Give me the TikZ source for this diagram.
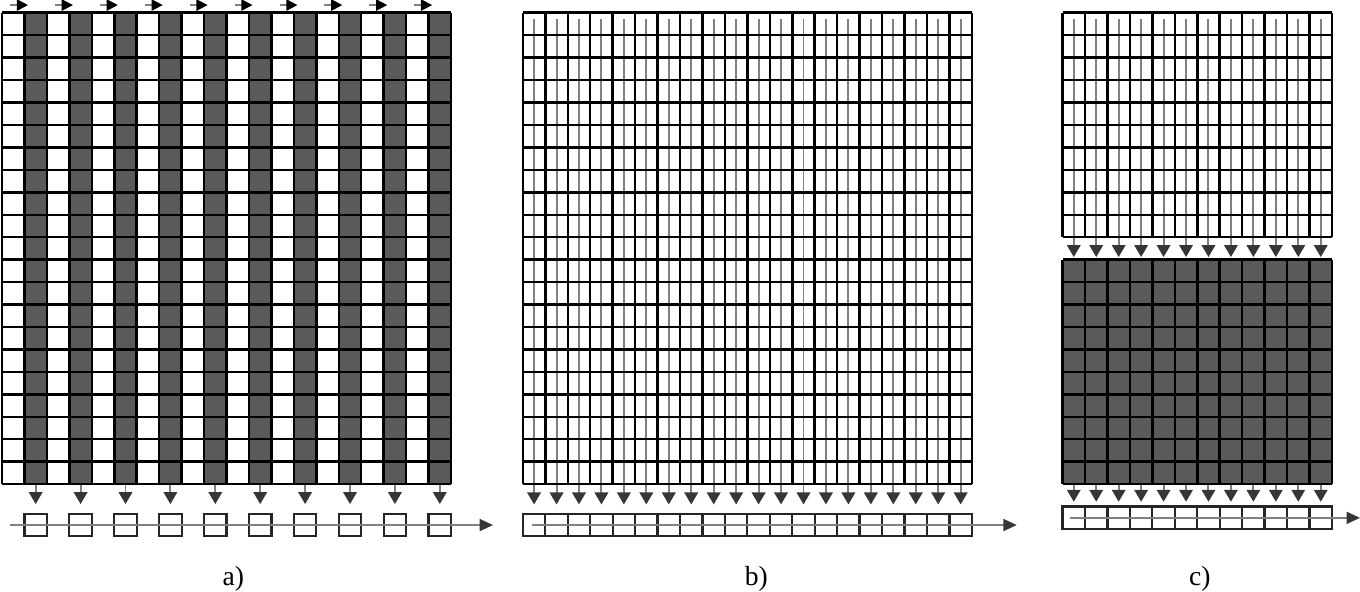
\documentclass[tikz,border=0pt]{standalone}
\usepackage{fontspec}
\setmainfont{Liberation Serif}
\usetikzlibrary{arrows.meta,positioning}
\definecolor{cellgray}{HTML}{5A5A5A}
\definecolor{flowgray}{HTML}{808080}
\definecolor{headgray}{HTML}{363636}
\begin{document}
\begin{tikzpicture}[scale=0.6,
 gridline/.style={line width=1.9pt,black},
 darkcell/.style={fill=cellgray},
 outbox/.style={draw=black!85,line width=1.7pt,minimum size=0.6cm,inner sep=0pt},
 feed/.style={-{Triangle[length=3.2mm,width=3.6mm,color=headgray]},line width=1.5pt,flowgray},
 push/.style={-{Triangle[length=3mm,width=3mm,color=black]},line width=1.5pt,flowgray},
 bus/.style={-{Triangle[length=3.6mm,width=3.2mm,color=headgray]},line width=1.5pt,flowgray},
 tag/.style={font=\fontsize{21}{24}\selectfont}]
\useasboundingbox (-0.09,-25.8) rectangle (60.49,0.566);

% a) alternating columns
\foreach \i in {0,...,9}
  \fill[darkcell] (2*\i+1,-21) rectangle (2*\i+2,0);
\draw[gridline] (0,-21) grid (20,0);
\foreach \i in {0,...,9}{
  \coordinate (ain\i) at (2*\i+0.36,0.34);
  \coordinate (aend\i) at (2*\i+1.16,0.34);
  \draw[push] (ain\i) -- (aend\i);
  \node[outbox] (aout\i) at (2*\i+1.5,-22.82) {};
  \coordinate (abot\i) at (2*\i+1.5,-21);
  \draw[feed,shorten <=1pt,shorten >=2.3mm] (abot\i) -- (aout\i.north);
}
\coordinate (abus0) at (0.36,-22.82);
\coordinate (abus1) at (21.87,-22.82);
\draw[bus] (abus0) -- (abus1);

% b) every column feeds the output row
\begin{scope}[shift={(23.2,0)}]
\foreach \i in {0,...,19}{
  \node[outbox] (bout\i) at (\i+0.5,-22.82) {};
  \coordinate (btop\i) at (\i+0.5,-0.28);
  \draw[feed,shorten >=2.2mm] (btop\i) -- (bout\i.north);
}
\draw[gridline] (0,-21) grid (20,0);
\coordinate (bbus0) at (0.4,-22.82);
\coordinate (bbus1) at (22,-22.82);
\draw[bus] (bbus0) -- (bbus1);
\end{scope}

% c) two stacked blocks
\begin{scope}[shift={(47.24,0)}]
\fill[darkcell] (0,-21) rectangle (12,-11);
\foreach \i in {0,...,11}{
  \node[outbox] (cout\i) at (\i+0.5,-22.5) {};
  \coordinate (ctop\i) at (\i+0.5,-0.3);
  \coordinate (cmid\i) at (\i+0.5,-11);
  \coordinate (cbot\i) at (\i+0.5,-21);
  \draw[feed,shorten >=0.7mm] (ctop\i) -- (cmid\i);
  \draw[feed,shorten <=1pt,shorten >=1mm] (cbot\i) -- (cout\i.north);
}
\draw[gridline] (0,-10) grid (12,0);
\draw[gridline] (0,-21) grid (12,-11);
\coordinate (cbus0) at (0.33,-22.5);
\coordinate (cbus1) at (13.25,-22.5);
\draw[bus] (cbus0) -- (cbus1);
\end{scope}

\node[tag] (capa) at (10.3,-25.2) {a)};
\node[tag] (capb) at (33.6,-25.2) {b)};
\node[tag] (capc) at (53.36,-25.2) {c)};
\end{tikzpicture}
\end{document}
